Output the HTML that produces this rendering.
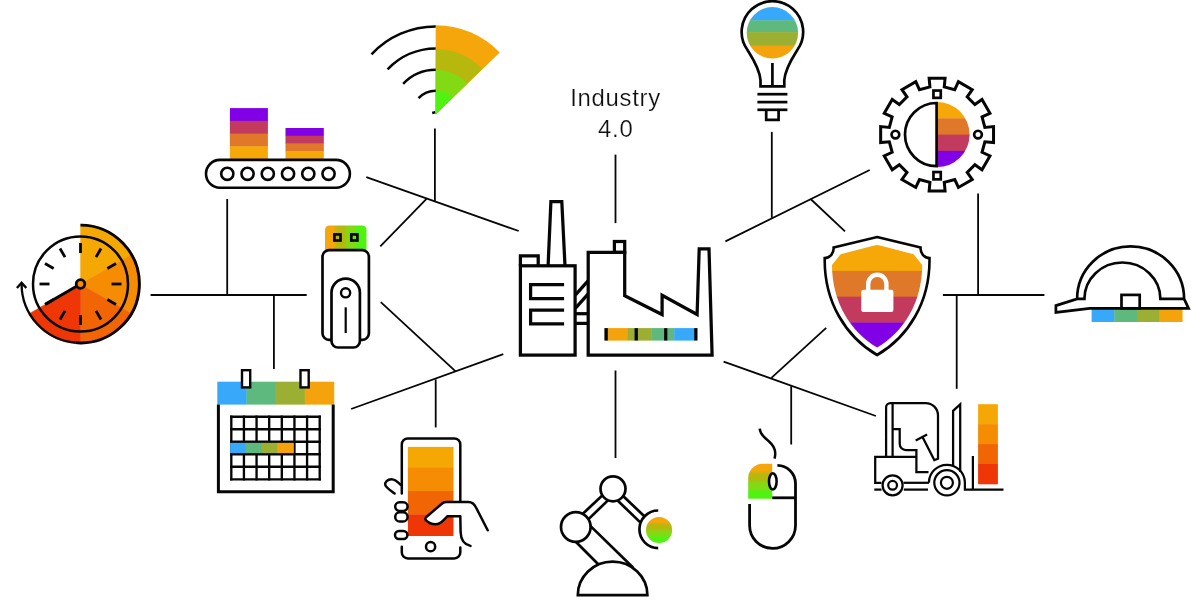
<!DOCTYPE html>
<html lang="en"><head><meta charset="utf-8"><title>Industry 4.0</title>
<style>
html,body{margin:0;padding:0;background:#fff;}
body{width:1200px;height:607px;overflow:hidden;}
svg{display:block;font-family:"Liberation Sans",sans-serif;}
</style></head><body>
<svg width="1200" height="607" viewBox="0 0 1200 607">
<rect width="1200" height="607" fill="#fff"/>
<g stroke="#060606" stroke-width="1.8" fill="none">
<line x1="615.5" y1="154.6" x2="615.5" y2="223.1"/>
<line x1="615.5" y1="370.5" x2="615.5" y2="458.0"/>
<line x1="366.3" y1="177.2" x2="518.7" y2="231.0"/>
<line x1="434.9" y1="128.5" x2="434.9" y2="201.0"/>
<line x1="426.5" y1="198.9" x2="380.3" y2="246.3"/>
<line x1="150.6" y1="295.0" x2="306.7" y2="295.0"/>
<line x1="227.2" y1="199.0" x2="227.2" y2="295.0"/>
<line x1="273.9" y1="295.0" x2="273.9" y2="368.9"/>
<line x1="351.1" y1="409.0" x2="503.3" y2="354.2"/>
<line x1="380.8" y1="302.2" x2="455.6" y2="371.4"/>
<line x1="435.7" y1="379.4" x2="435.7" y2="427.4"/>
<line x1="725.4" y1="241.4" x2="869.7" y2="170.0"/>
<line x1="771.8" y1="131.9" x2="771.8" y2="217.8"/>
<line x1="810.6" y1="199.0" x2="845.0" y2="231.3"/>
<line x1="978.1" y1="193.5" x2="978.1" y2="295.0"/>
<line x1="942.9" y1="295.0" x2="1044.4" y2="295.0"/>
<line x1="956.7" y1="295.0" x2="956.7" y2="388.8"/>
<line x1="723.6" y1="361.6" x2="875.9" y2="416.0"/>
<line x1="826.2" y1="327.9" x2="771.4" y2="377.9"/>
<line x1="791.2" y1="386.2" x2="791.2" y2="444.5"/>
</g>
<g style="mix-blend-mode:multiply;isolation:isolate">
<text x="615.6" y="106.3" text-anchor="middle" font-size="23.9" letter-spacing="0.72" fill="#101010" stroke="#fff" stroke-width="0.2">Industry</text>
<text x="615.8" y="136.7" text-anchor="middle" font-size="23.9" letter-spacing="0.72" fill="#101010" stroke="#fff" stroke-width="0.2">4.0</text>
</g>
<path d="M80.5,284 L80.50,224.10 A59.9,59.9 0 0 1 132.37,254.05 Z" fill="#F5A804" stroke="#F5A804" stroke-width="0.4"/>
<path d="M80.5,284 L132.37,254.05 A59.9,59.9 0 0 1 132.37,313.95 Z" fill="#F58C02" stroke="#F58C02" stroke-width="0.4"/>
<path d="M80.5,284 L132.37,313.95 A59.9,59.9 0 0 1 80.50,343.90 Z" fill="#F26504" stroke="#F26504" stroke-width="0.4"/>
<path d="M80.5,284 L80.50,343.90 A59.9,59.9 0 0 1 28.63,313.95 Z" fill="#EE3606" stroke="#EE3606" stroke-width="0.4"/>
<g stroke="#060606" stroke-width="2.5" fill="none">
<circle cx="80.5" cy="284" r="47.5"/>
<path d="M80.50,225.10 A58.9,58.9 0 1 1 75.37,342.68" stroke-width="2.9"/>
<path d="M75.37,342.68 A58.9,58.9 0 0 1 21.60,284.00" stroke-width="2.3"/>
<path d="M16.90,288.00 L21.60,282.80 L26.30,288.00" stroke-width="2.4"/>
<line x1="80.50" y1="253.00" x2="80.50" y2="243.00" stroke-width="2.8"/>
<line x1="96.00" y1="257.15" x2="101.00" y2="248.49" stroke-width="2.8"/>
<line x1="107.35" y1="268.50" x2="116.01" y2="263.50" stroke-width="2.8"/>
<line x1="111.50" y1="284.00" x2="121.50" y2="284.00" stroke-width="2.8"/>
<line x1="107.35" y1="299.50" x2="116.01" y2="304.50" stroke-width="2.8"/>
<line x1="96.00" y1="310.85" x2="101.00" y2="319.51" stroke-width="2.8"/>
<line x1="80.50" y1="315.00" x2="80.50" y2="325.00" stroke-width="2.8"/>
<line x1="65.00" y1="310.85" x2="60.00" y2="319.51" stroke-width="2.8"/>
<line x1="53.65" y1="299.50" x2="44.99" y2="304.50" stroke-width="2.8"/>
<line x1="49.50" y1="284.00" x2="39.50" y2="284.00" stroke-width="2.8"/>
<line x1="53.65" y1="268.50" x2="44.99" y2="263.50" stroke-width="2.8"/>
<line x1="65.00" y1="257.15" x2="60.00" y2="248.49" stroke-width="2.8"/>
<line x1="80.5" y1="284" x2="45.86" y2="304.00" stroke-width="3"/>
<circle cx="80.5" cy="284" r="4.3" fill="#F58C02" stroke-width="2.8"/>
</g>
<rect x="229.9" y="108.10" width="38" height="13.15" fill="#8200E6"/><rect x="229.9" y="120.85" width="38" height="13.15" fill="#C23A5E"/><rect x="229.9" y="133.60" width="38" height="13.15" fill="#E0782A"/><rect x="229.9" y="146.35" width="38" height="13.15" fill="#F5A808"/>
<rect x="285.5" y="128.00" width="38.3" height="8.15" fill="#8200E6"/><rect x="285.5" y="135.75" width="38.3" height="8.15" fill="#C23A5E"/><rect x="285.5" y="143.50" width="38.3" height="8.15" fill="#E0782A"/><rect x="285.5" y="151.25" width="38.3" height="8.15" fill="#F5A808"/>
<g stroke="#060606" stroke-width="2.6" fill="#fff">
<rect x="206" y="159.9" width="143.9" height="27.8" rx="13.9"/>
<circle cx="227.30" cy="173.8" r="6.1"/>
<circle cx="247.55" cy="173.8" r="6.1"/>
<circle cx="267.80" cy="173.8" r="6.1"/>
<circle cx="288.05" cy="173.8" r="6.1"/>
<circle cx="308.30" cy="173.8" r="6.1"/>
<circle cx="328.55" cy="173.8" r="6.1"/>
</g>
<path d="M435.7,114.2 L435.70,25.20 A89,89 0 0 1 499.72,52.38 Z" fill="#F5A60A"/>
<path d="M435.7,114.2 L435.70,49.20 A65,65 0 0 1 482.46,69.05 Z" fill="#B6B80E"/>
<path d="M435.7,114.2 L435.70,70.00 A44.2,44.2 0 0 1 467.49,83.50 Z" fill="#82DA14"/>
<path d="M435.7,114.2 L435.70,90.60 A23.6,23.6 0 0 1 452.68,97.81 Z" fill="#50F212"/>
<g stroke="#060606" stroke-width="2.5" fill="none">
<path d="M371.49,54.32 A87.8,87.8 0 0 1 435.70,26.40"/>
<path d="M387.58,69.32 A65.8,65.8 0 0 1 435.70,48.40"/>
<path d="M403.15,83.85 A44.5,44.5 0 0 1 435.70,69.70"/>
<path d="M418.51,98.17 A23.5,23.5 0 0 1 435.70,90.70"/>
<path d="M432.2,113.0 L435.2,112.2"/>
</g>
<defs><linearGradient id="gOG" x1="0" x2="1" y1="0" y2="0"><stop offset="0.2" stop-color="#F5A60A"/><stop offset="0.3" stop-color="#B6B80E"/><stop offset="0.45" stop-color="#B6B80E"/><stop offset="0.55" stop-color="#82DA14"/><stop offset="0.7" stop-color="#82DA14"/><stop offset="0.8" stop-color="#50F212"/></linearGradient><linearGradient id="gOGv" x1="0" x2="0" y1="0" y2="1"><stop offset="0.2" stop-color="#F5A60A"/><stop offset="0.3" stop-color="#B6B80E"/><stop offset="0.45" stop-color="#B6B80E"/><stop offset="0.55" stop-color="#82DA14"/><stop offset="0.7" stop-color="#82DA14"/><stop offset="0.8" stop-color="#50F212"/></linearGradient></defs>
<path d="M325,249.5 V229.8 a4.2,4.2 0 0 1 4.2,-4.2 H362.3 a4.2,4.2 0 0 1 4.2,4.2 V249.5 Z" fill="url(#gOG)"/>
<g stroke="#060606" stroke-width="2.7" fill="#fff">
<rect x="334.4" y="234.4" width="6.1" height="6.1" fill="none" stroke-width="2.7"/>
<rect x="351.3" y="234.4" width="6.1" height="6.1" fill="none" stroke-width="2.7"/>
<rect x="322.5" y="250.2" width="46.4" height="89.6" rx="6.5"/>
<path d="M331.5,341 V292.8 a14.2,14.2 0 0 1 28.4,0 V341 a6.5,6.5 0 0 1 -6.5,6.5 H338 a6.5,6.5 0 0 1 -6.5,-6.5 Z"/>
<circle cx="345.6" cy="292.8" r="4.6" stroke-width="2.4"/>
<line x1="345.7" y1="307.3" x2="345.7" y2="333" stroke-width="2.2"/>
</g>
<rect x="217.30" y="381.7" width="29.5" height="22.9" fill="#38A9FA"/><rect x="246.45" y="381.7" width="29.5" height="22.9" fill="#5DB97D"/><rect x="275.60" y="381.7" width="29.5" height="22.9" fill="#9BB032"/><rect x="304.75" y="381.7" width="29.5" height="22.9" fill="#F5A30C"/>
<g stroke="#060606" stroke-width="3" fill="none">
<path d="M218.4,404.6 V491.8 H333.2 V404.6"/>
<rect x="242" y="370.2" width="8.2" height="17.2" fill="#fff" stroke-width="2.4"/>
<rect x="300.5" y="370.2" width="8.2" height="17.2" fill="#fff" stroke-width="2.4"/>
</g>
<g stroke="#060606" stroke-width="2.35" fill="none" stroke-linecap="square">
<line x1="231.30" y1="416.7" x2="231.30" y2="479.3"/>
<line x1="243.93" y1="416.7" x2="243.93" y2="479.3"/>
<line x1="256.56" y1="416.7" x2="256.56" y2="479.3"/>
<line x1="269.19" y1="416.7" x2="269.19" y2="479.3"/>
<line x1="281.81" y1="416.7" x2="281.81" y2="479.3"/>
<line x1="294.44" y1="416.7" x2="294.44" y2="479.3"/>
<line x1="307.07" y1="416.7" x2="307.07" y2="479.3"/>
<line x1="319.70" y1="416.7" x2="319.70" y2="479.3"/>
<line x1="231.3" y1="416.70" x2="319.7" y2="416.70"/>
<line x1="231.3" y1="429.22" x2="319.7" y2="429.22"/>
<line x1="231.3" y1="441.74" x2="319.7" y2="441.74"/>
<line x1="231.3" y1="454.26" x2="319.7" y2="454.26"/>
<line x1="231.3" y1="466.78" x2="319.7" y2="466.78"/>
<line x1="231.3" y1="479.30" x2="319.7" y2="479.30"/>
</g>
<rect x="230.10" y="442.84" width="16.1" height="10.32" fill="#38A9FA"/><rect x="245.95" y="442.84" width="16.1" height="10.32" fill="#5DB97D"/><rect x="261.80" y="442.84" width="16.1" height="10.32" fill="#9BB032"/><rect x="277.65" y="442.84" width="16.1" height="10.32" fill="#F5A30C"/>
<rect x="407.9" y="446.9" width="45.6" height="21.10" fill="#F5A804"/><rect x="407.9" y="467.7" width="45.6" height="23.60" fill="#F58C02"/><rect x="407.9" y="491" width="45.6" height="23.70" fill="#F26504"/><rect x="407.9" y="514.4" width="45.6" height="21.60" fill="#EE3606"/>
<g stroke="#060606" stroke-width="2.5" fill="none" stroke-linecap="round" stroke-linejoin="round">
<path d="M401.8,493.5 V444.4 a6,6 0 0 1 6,-6 H454.3 a6,6 0 0 1 6,6 V501" />
<path d="M401.8,546.7 V552.4 a6,6 0 0 0 6,6 H454.3 a6,6 0 0 0 6,-6 V547.5"/>
<circle cx="430.6" cy="546.7" r="4.6"/>
<path d="M400.8,484.9 C397,481 394,479.2 391.5,479.2 C387.5,479.2 384.5,482.2 385.3,485 C386,487.6 390,490 394.6,493.5"/>
<rect x="395.2" y="502.3" width="12.4" height="8.6" rx="4.3" fill="#fff"/>
<rect x="395.2" y="512.3" width="12.4" height="9.2" rx="4.6" fill="#fff"/>
<rect x="395" y="531" width="12.4" height="8" rx="4" fill="#fff"/>
<path d="M487.7,530.3 L476,507.5 C474.5,504.5 472,502.1 468.5,502.1 H446 C444,502.1 443,502.6 441.5,504 L426,517.3 C425,518.3 425,519.3 426,520.3 C429,523.3 433,524.6 437.6,524 C441,523.5 443.5,520 447.5,516.2 H460.3 L460.6,532 C460.8,539 464,544.5 470.5,545.9" fill="#fff"/>
</g>
<g stroke="#060606" stroke-width="2.7" fill="none">
<line x1="581" y1="515.4" x2="606" y2="492.1"/><line x1="588" y1="519.6" x2="610" y2="498.4"/>
<line x1="615.5" y1="498.5" x2="640" y2="522.1"/><line x1="621.5" y1="494.5" x2="644.6" y2="516.5"/>
<line x1="587" y1="522.6" x2="633" y2="567.5"/><line x1="573.3" y1="539.3" x2="598" y2="564"/>
<circle cx="613" cy="488.8" r="12.5" fill="#fff"/>
<circle cx="575.8" cy="527" r="14.8" fill="#fff"/>
<path d="M577.8,595.2 a34.8,33.5 0 0 1 69.6,0 Z" fill="#fff"/>
<path d="M658.2,510.5 a18.8,18.8 0 0 0 0,37.6"/>
</g>
<clipPath id="ballc"><circle cx="659.05" cy="530" r="13.1"/></clipPath>
<circle cx="659.05" cy="530" r="13.1" fill="url(#gOGv)"/>
<clipPath id="mbc"><path d="M748.2,498.7 V478.2 a14.5,14.5 0 0 1 14.5,-14.5 H772.2 V498.7 Z"/></clipPath>
<path d="M748.2,498.7 V478.2 a14.5,14.5 0 0 1 14.5,-14.5 H772.2 V498.7 Z" fill="url(#gOGv)"/>
<g stroke="#060606" stroke-width="2.8" fill="none">
<path d="M777.4,465.4 A18.2,18.2 0 0 1 795.5,483.6 V525.5 a22.95,22.95 0 0 1 -45.9,0 V504"/>
<line x1="772.2" y1="497.8" x2="795.5" y2="497.8"/>
<ellipse cx="772.8" cy="481.4" rx="3.8" ry="8.1" fill="#fff" stroke-width="2.6"/>
<path d="M759.7,428.6 C760.2,434.5 763.7,436.6 767.2,439.8 C770.7,443 777.5,448 774.5,458.6" stroke-width="2.5"/>
</g>
<rect x="978.1" y="404.20" width="19.8" height="20.32" fill="#F5A804"/><rect x="978.1" y="424.12" width="19.8" height="20.32" fill="#F58C02"/><rect x="978.1" y="444.05" width="19.8" height="20.32" fill="#F26504"/><rect x="978.1" y="463.98" width="19.8" height="20.32" fill="#EE3606"/>
<g stroke="#060606" stroke-width="2.25" fill="none">
<path d="M886.1,456.8 V407.3 a4.3,4.3 0 0 1 4.3,-4.3 H925.6 a12.4,12.4 0 0 1 12.4,12.4 V458.7 L934.3,460.1 L922.5,437"/>
<line x1="915.7" y1="440.5" x2="927.1" y2="434.6"/>
<line x1="892.6" y1="403" x2="892.6" y2="456.8"/>
<path d="M892.6,429 H899.7 V443.8 a6.2,6.2 0 0 0 6.2,6.2 H916.4 V472.1 H928.5"/>
<path d="M881.5,482.8 H875.2 V456.9 H916.4"/>
<path d="M903.5,482.8 H928.9"/>
<line x1="874.3" y1="489.6" x2="881.5" y2="489.6"/><line x1="903.8" y1="489.6" x2="928" y2="489.6"/>
<path d="M928.9,482.8 a18,18 0 0 1 36,0 V489.6 H1003.5"/>
<line x1="972.9" y1="456" x2="972.9" y2="489.6"/>
<path d="M953.1,466 V410.8 L960.2,404.3 V472"/>
<circle cx="892.6" cy="485.3" r="10"/><circle cx="892.6" cy="485.3" r="4.4"/>
<circle cx="946.9" cy="482.8" r="12.6"/><circle cx="946.9" cy="482.8" r="6"/>
</g>
<rect x="1091.60" y="309" width="23" height="13" fill="#38A9FA"/><rect x="1114.25" y="309" width="23" height="13" fill="#5DB97D"/><rect x="1136.90" y="309" width="23" height="13" fill="#9BB032"/><rect x="1159.55" y="309" width="23" height="13" fill="#F5A30C"/>
<g stroke="#060606" stroke-width="2.7" fill="none" stroke-linejoin="miter">
<path d="M1077.1,298.9 A53.5,52.6 0 0 1 1184.1,298.9 L1188.6,308.3 H1089.8 L1055.9,312.4 V305.6 L1077.1,298.9 H1084.4 A38,36.4 0 0 1 1160.4,298.9 H1184.1"/>
<rect x="1121.5" y="294.9" width="18.2" height="13.4"/>
</g>
<clipPath id="hd"><path d="M937.1,102.1 A32.5,32.5 0 0 1 937.1,167.1 Z"/></clipPath>
<g clip-path="url(#hd)"><rect x="937.1" y="102.10" width="34" height="16.65" fill="#F5A808"/><rect x="937.1" y="118.35" width="34" height="16.65" fill="#E0782A"/><rect x="937.1" y="134.60" width="34" height="16.65" fill="#C23A5E"/><rect x="937.1" y="150.85" width="34" height="16.65" fill="#8200E6"/></g>
<g stroke="#060606" stroke-width="3" fill="none" stroke-linejoin="miter">
<path d="M929.92,86.84 L929.13,78.16 L945.07,78.16 L944.27,86.84 L954.76,89.65 L958.41,81.74 L972.23,89.71 L967.19,96.82 L974.87,104.50 L981.99,99.47 L989.96,113.29 L982.05,116.93 L984.86,127.42 L993.54,126.63 L993.54,142.57 L984.86,141.77 L982.05,152.26 L989.96,155.91 L981.99,169.73 L974.88,164.69 L967.20,172.37 L972.23,179.49 L958.41,187.46 L954.77,179.55 L944.28,182.36 L945.07,191.04 L929.13,191.04 L929.93,182.36 L919.44,179.55 L915.79,187.46 L901.97,179.49 L907.01,172.38 L899.33,164.70 L892.21,169.73 L884.24,155.91 L892.15,152.27 L889.34,141.78 L880.66,142.57 L880.66,126.63 L889.34,127.43 L892.15,116.94 L884.24,113.29 L892.21,99.47 L899.32,104.51 L907.00,96.83 L901.97,89.71 L915.79,81.74 L919.43,89.65 Z"/>
<path d="M936.6,103.0 A31.6,31.6 0 0 0 936.6,166.2 Z" stroke-width="2.7"/>
<rect x="933.45" y="90.55" width="7.3" height="7.3" stroke-width="2.7"/><rect x="933.45" y="172.05" width="7.3" height="7.3" stroke-width="2.7"/>
<circle cx="895.4" cy="134.6" r="3.85" stroke-width="2.7"/><circle cx="978.0" cy="134.6" r="3.85" stroke-width="2.7"/>
</g>
<clipPath id="bc"><circle cx="772.4" cy="32.8" r="25.7"/></clipPath>
<g clip-path="url(#bc)"><rect x="740" y="6" width="70" height="14.70" fill="#38A9FA"/><rect x="740" y="20.3" width="70" height="12.20" fill="#5DB97D"/><rect x="740" y="32.1" width="70" height="13.90" fill="#9BB032"/><rect x="740" y="45.6" width="70" height="14.80" fill="#F5A30C"/></g>
<g stroke="#060606" stroke-width="2.7" fill="none">
<path d="M760.5,86.3 V80 C759.5,68 751.5,56.5 747.5,50 A30.75,30.75 0 1 1 797.3,50 C793.3,56.5 785.3,68 784.3,80 V86.3 Z"/>
<line x1="772.4" y1="63" x2="772.4" y2="86"/>
<line x1="757.4" y1="94.2" x2="787.4" y2="94.2"/><line x1="757.4" y1="102.1" x2="787.4" y2="102.1"/><line x1="757.4" y1="109.8" x2="787.4" y2="109.8"/>
<path d="M766.2,109.8 V119.8 H778.6 V109.8"/>
</g>
<path d="M877.1,237 L920.6,247.4 A9,9.6 0 0 0 929.5,258 C930.2,302 908.2,337 877.1,355 C846,337 824,302 824.7,258 A9,9.6 0 0 0 833.6,247.4 Z" fill="#fff" stroke="#060606" stroke-width="2.6" stroke-linejoin="miter"/>
<clipPath id="sc"><path d="M877.1,244.7 L913.6,254.3 L922.2,265 C922.2,302 903.7,332 877.1,347.5 C850.5,332 832,302 832,265 L840.6,254.3 Z"/></clipPath>
<g clip-path="url(#sc)"><rect x="820" y="245.10" width="115" height="26.20" fill="#F5A808"/><rect x="820" y="270.90" width="115" height="26.20" fill="#E0782A"/><rect x="820" y="296.70" width="115" height="26.20" fill="#C23A5E"/><rect x="820" y="322.50" width="115" height="26.20" fill="#8200E6"/></g>
<rect x="861.3" y="289.7" width="32.1" height="22.2" rx="2" fill="#fff"/>
<path d="M868.2,291 V283.9 a9.1,9.1 0 0 1 18.2,0 V291" fill="none" stroke="#fff" stroke-width="4.4"/>
<g stroke="#060606" stroke-width="3.25" fill="none" stroke-linejoin="miter">
<rect x="520.4" y="265.8" width="54.7" height="89.3" fill="#fff"/>
<path d="M520.4,265.8 V255.8 H538.2 V265.8"/>
<path d="M548.1,265.8 L550.9,201.5 H561.8 L565,265.8"/>
<path d="M564.1,284.6 H530.6 V298.6 H564.1"/><path d="M564.1,310.2 H530.6 V323.9 H564.1"/>
<line x1="575.5" y1="294.8" x2="588" y2="280.8"/><line x1="575.5" y1="308.2" x2="588" y2="294.2"/>
<line x1="575.1" y1="313.7" x2="588.2" y2="313.7"/><line x1="575.1" y1="323.4" x2="588.2" y2="323.4"/>
<path d="M588.2,355.1 V252.4 H624.7 V295.8 L662.1,314.5 V295.3 L697.1,314.5 L699.2,248.8 H709 L712.1,355.1 Z"/>
<rect x="614.4" y="241.5" width="10.3" height="10.9"/>
</g>
<rect x="604.4" y="328.1" width="3.70" height="12.5" fill="#060606"/><rect x="607.8" y="328.1" width="20.30" height="12.5" fill="#F5A30C"/><rect x="627.8" y="328.1" width="7.00" height="12.5" fill="#9BB032"/><rect x="634.5" y="328.1" width="3.70" height="12.5" fill="#060606"/><rect x="637.9" y="328.1" width="13.60" height="12.5" fill="#9BB032"/><rect x="651.2" y="328.1" width="13.20" height="12.5" fill="#5DB97D"/><rect x="664.1" y="328.1" width="3.70" height="12.5" fill="#060606"/><rect x="667.5" y="328.1" width="7.00" height="12.5" fill="#5DB97D"/><rect x="674.2" y="328.1" width="20.30" height="12.5" fill="#38A9FA"/><rect x="694.2" y="328.1" width="3.30" height="12.5" fill="#060606"/>
</svg>
</body></html>
